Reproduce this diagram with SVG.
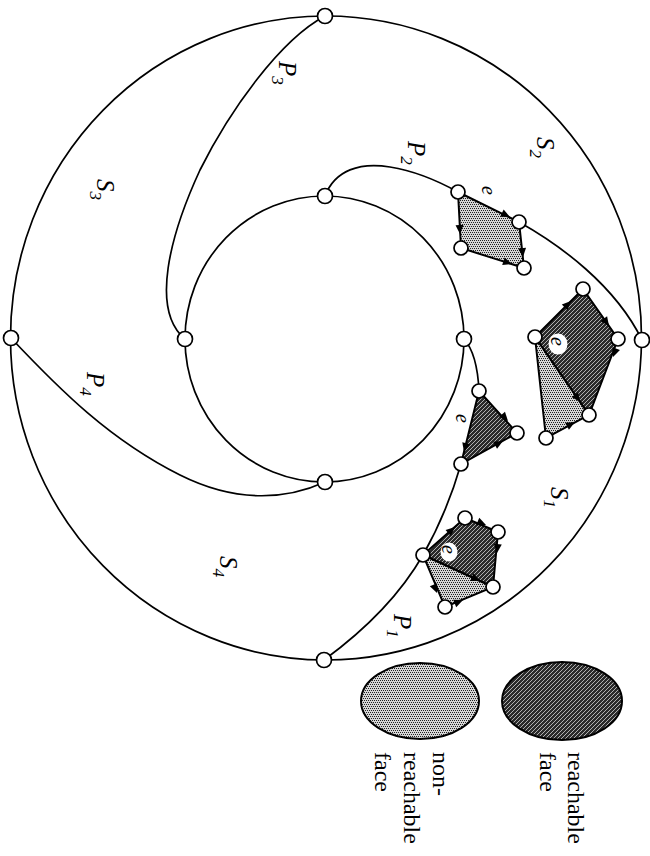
<svg xmlns="http://www.w3.org/2000/svg" xmlns:xlink="http://www.w3.org/1999/xlink" width="650" height="856" viewBox="0 0 650 856">
<style>
.curve{fill:none;stroke:#000;stroke-width:1.7}
.edge{fill:none;stroke:#000;stroke-width:2}
.node{fill:#fff;stroke:#000;stroke-width:1.7}
.lbl{font-family:"Liberation Serif",serif;font-style:italic;font-size:25px;fill:#000}
.sub{font-size:17px}
.e{font-family:"Liberation Serif",serif;font-style:italic;font-size:20px;fill:#000}
.leg{font-family:"Liberation Serif",serif;font-size:24px;fill:#000}
.light{fill:url(#lightFill);stroke:#000;stroke-width:2}
.dark{fill:url(#darkFill);stroke:#000;stroke-width:2}
</style>
<defs>
<pattern id="lightFill" width="4" height="4" patternUnits="userSpaceOnUse">
<rect width="4" height="4" fill="#d6d6d6"/>
<rect x="0" y="0" width="1" height="1" fill="#222"/>
<rect x="2" y="0" width="1" height="1" fill="#222"/>
<rect x="1" y="2" width="1" height="1" fill="#222"/>
<rect x="3" y="2" width="1" height="1" fill="#222"/>
</pattern>
<pattern id="darkFill" width="4" height="4" patternUnits="userSpaceOnUse">
<rect width="4" height="4" fill="#2a2a2a"/>
<rect x="0" y="3" width="1" height="1" fill="#b0b0b0"/>
<rect x="1" y="2" width="1" height="1" fill="#b0b0b0"/>
<rect x="2" y="1" width="1" height="1" fill="#b0b0b0"/>
<rect x="3" y="0" width="1" height="1" fill="#b0b0b0"/>
</pattern>
<path id="ah" d="M0,0 L-9,-4 L-9,4 Z" fill="#000"/>
</defs>
<rect width="650" height="856" fill="#fff"/>

<g id="connectors">
<ellipse class="curve" cx="326" cy="338" rx="315.5" ry="322"/>
<ellipse class="curve" cx="324.5" cy="339" rx="139.5" ry="143"/>
<path class="curve" d="M325,16 C280,40 230,110 200,170 C170,235 150,310 185,339"/>
<path class="curve" d="M325,196 C335,170 360,162 390,167 C415,171 440,182 458,192"/>
<path class="curve" d="M519,222 C560,245 615,285 642,340"/>
<path class="curve" d="M464,339 C474,350 478,370 479,391"/>
<path class="curve" d="M461,464 C452,495 440,525 423,555 C400,595 365,630 324,660"/>
<path class="curve" d="M11,338 C60,390 110,440 180,475 C240,505 290,498 325,482"/>
</g>

<g id="faces">
<polygon class="light" points="458,192 519,222 524,268 461,248"/>
<polygon class="dark" points="535,337 583,289 618,339 589,415"/>
<polygon class="light" points="535,337 589,415 546,438"/>
<polygon class="dark" points="479,391 517,433 461,464"/>
<polygon class="dark" points="423,555 465,518 498,532 493,587"/>
<polygon class="light" points="423,555 493,587 445,607"/>
</g>

<g id="arrows">
<use xlink:href="#ah" transform="translate(510,217) rotate(26)"/>
<use xlink:href="#ah" transform="translate(460,234) rotate(87)"/>
<use xlink:href="#ah" transform="translate(523,257) rotate(84)"/>
<use xlink:href="#ah" transform="translate(512,264) rotate(17.6)"/>
<use xlink:href="#ah" transform="translate(571,301) rotate(-45)"/>
<use xlink:href="#ah" transform="translate(609,326) rotate(55)"/>
<use xlink:href="#ah" transform="translate(613,357) rotate(111)"/>
<use xlink:href="#ah" transform="translate(580,402) rotate(55)"/>
<use xlink:href="#ah" transform="translate(575,422) rotate(-28)"/>
<use xlink:href="#ah" transform="translate(508,421) rotate(48)"/>
<use xlink:href="#ah" transform="translate(503,441) rotate(-29)"/>
<use xlink:href="#ah" transform="translate(464,452) rotate(104)"/>
<use xlink:href="#ah" transform="translate(455,527) rotate(-41)"/>
<use xlink:href="#ah" transform="translate(486,525) rotate(23)"/>
<use xlink:href="#ah" transform="translate(497,553) rotate(95)"/>
<use xlink:href="#ah" transform="translate(480,581) rotate(24.6)"/>
<use xlink:href="#ah" transform="translate(437,593) rotate(67)"/>
<use xlink:href="#ah" transform="translate(463,600) rotate(-22.6)"/>
</g>

<g id="nodes">
<g id="n-outer-top"><circle class="node" cx="325" cy="16" r="7.5"/></g>
<g id="n-outer-left"><circle class="node" cx="11" cy="338" r="7.5"/></g>
<g id="n-outer-right"><circle class="node" cx="642" cy="340" r="7.5"/></g>
<g id="n-outer-bottom"><circle class="node" cx="324" cy="660" r="7.5"/></g>
<g id="n-inner-top"><circle class="node" cx="325" cy="196" r="7.5"/></g>
<g id="n-inner-left"><circle class="node" cx="185" cy="339" r="7.5"/></g>
<g id="n-inner-right"><circle class="node" cx="464" cy="339" r="7.5"/></g>
<g id="n-inner-bottom"><circle class="node" cx="325" cy="482" r="7.5"/></g>
<g id="n-q1"><circle class="node" cx="458" cy="192" r="7"/></g>
<g id="n-q2"><circle class="node" cx="519" cy="222" r="7"/></g>
<g id="n-q3"><circle class="node" cx="461" cy="248" r="7"/></g>
<g id="n-q4"><circle class="node" cx="524" cy="268" r="7"/></g>
<g id="n-b1"><circle class="node" cx="583" cy="289" r="7"/></g>
<g id="n-b2"><circle class="node" cx="535" cy="337" r="7"/></g>
<g id="n-b3"><circle class="node" cx="618" cy="339" r="7"/></g>
<g id="n-b4"><circle class="node" cx="589" cy="415" r="7"/></g>
<g id="n-b5"><circle class="node" cx="546" cy="438" r="7"/></g>
<g id="n-t1"><circle class="node" cx="479" cy="391" r="7"/></g>
<g id="n-t2"><circle class="node" cx="517" cy="433" r="7"/></g>
<g id="n-t3"><circle class="node" cx="461" cy="464" r="7"/></g>
<g id="n-h1"><circle class="node" cx="465" cy="518" r="7"/></g>
<g id="n-h2"><circle class="node" cx="498" cy="532" r="7"/></g>
<g id="n-h3"><circle class="node" cx="423" cy="555" r="7"/></g>
<g id="n-h4"><circle class="node" cx="493" cy="587" r="7"/></g>
<g id="n-h5"><circle class="node" cx="445" cy="607" r="7"/></g>
</g>

<g id="labels">
<text class="lbl" transform="translate(537,137) rotate(90)">S<tspan class="sub" dy="7">2</tspan></text>
<text class="lbl" transform="translate(408,141) rotate(90)">P<tspan class="sub" dy="7">2</tspan></text>
<text class="lbl" transform="translate(97,179) rotate(90)">S<tspan class="sub" dy="7">3</tspan></text>
<text class="lbl" transform="translate(279,61) rotate(90)">P<tspan class="sub" dy="7">3</tspan></text>
<text class="lbl" transform="translate(87,372) rotate(90)">P<tspan class="sub" dy="7">4</tspan></text>
<text class="lbl" transform="translate(551,487) rotate(90)">S<tspan class="sub" dy="7">1</tspan></text>
<text class="lbl" transform="translate(220,556) rotate(90)">S<tspan class="sub" dy="7">4</tspan></text>
<text class="lbl" transform="translate(394,614) rotate(90)">P<tspan class="sub" dy="7">1</tspan></text>
<text class="e" transform="translate(482,186) rotate(90)">e</text>
<text class="e" transform="translate(456,414) rotate(90)">e</text>
<ellipse cx="558" cy="344" rx="9.5" ry="10.5" fill="#fff"/>
<text class="e" transform="translate(551,337) rotate(90)">e</text>
<ellipse cx="449" cy="552" rx="8.5" ry="9.5" fill="#fff"/>
<text class="e" transform="translate(442,545) rotate(90)">e</text>
</g>

<g id="legend">
<g id="legend-nonreachable">
<ellipse class="light" cx="420" cy="701" rx="59" ry="38"/>
<text class="leg" transform="translate(433,752) rotate(90)">non-</text>
<text class="leg" transform="translate(404,752) rotate(90)">reachable</text>
<text class="leg" transform="translate(375,752) rotate(90)">face</text>
</g>
<g id="legend-reachable">
<ellipse class="dark" cx="562" cy="701" rx="60" ry="39"/>
<text class="leg" transform="translate(568,752) rotate(90)">reachable</text>
<text class="leg" transform="translate(540,752) rotate(90)">face</text>
</g>
</g>
</svg>
